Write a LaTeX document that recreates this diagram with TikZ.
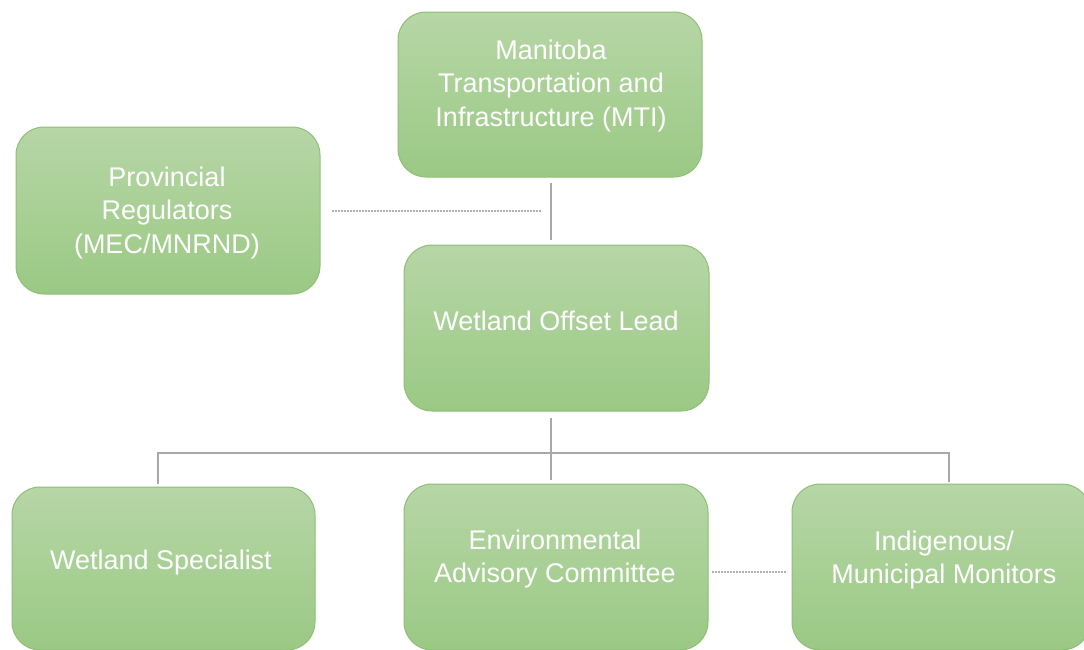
\documentclass[tikz,border=0pt]{standalone}
\usepackage{fontspec}
\setmainfont{Liberation Sans}
\begin{document}
\definecolor{boxtop}{HTML}{B6D6A6}
\definecolor{boxbot}{HTML}{9BC984}
\definecolor{boxline}{HTML}{8EBF76}
\definecolor{linkgray}{HTML}{A8A8A8}
\begin{tikzpicture}[x=1pt,y=-1pt,
  card/.style={rounded corners=28pt, draw=boxline, line width=1pt,
    top color=boxtop, bottom color=boxbot},
  cardtext/.style={text=white, align=center,
    font=\fontsize{27}{33.5}\selectfont, inner sep=0pt},
  link/.style={draw=linkgray, line width=2pt},
  dotlink/.style={draw=linkgray!90, line width=2pt, dash pattern=on 2pt off 1pt}]
\useasboundingbox (0,0) rectangle (1084,649);

% boxes
\path[card] (398,12) rectangle (702,177);
\node (mtibox) at (550,94.5) {};
\path[card] (16,127) rectangle (320,294);
\node (provbox) at (168,210.5) {};
\path[card] (404,245) rectangle (709,411);
\node (leadbox) at (556.5,328) {};
\path[card] (12,487) rectangle (315,650);
\node (specbox) at (163.5,568) {};
\path[card] (404,484) rectangle (708,650);
\node (eacbox) at (556,567) {};
\path[card] (792,484) rectangle (1090,650);
\node (monbox) at (941,567) {};

% labels
\node[cardtext] (mti) at (551,86) {Manitoba\\Transportation and\\Infrastructure (MTI)};
\node[cardtext] (prov) at (167,213) {Provincial\\Regulators\\(MEC/MNRND)};
\node[cardtext] (lead) at (556,321) {Wetland Offset Lead};
\node[cardtext] (spec) at (161,563) {Wetland Specialist};
\node[cardtext] (eac) at (555,559) {Environmental\\Advisory Committee};
\node[cardtext] (mon) at (944,560) {Indigenous/\\Municipal Monitors};

% connectors
\coordinate (mtiBot) at (551,183);
\coordinate (leadTop) at (551,240);
\coordinate (provEnd) at (332,211);
\coordinate (provJoin) at (541,211);
\coordinate (leadBot) at (551,418);
\coordinate (busL) at (158,453);
\coordinate (busM) at (551,453);
\coordinate (busR) at (949,453);
\coordinate (specTop) at (158,484);
\coordinate (eacTop) at (551,480);
\coordinate (monTop) at (949,482);
\coordinate (eacRight) at (712,572);
\coordinate (monLeft) at (787,572);

\draw[link] (mtiBot) -- (leadTop);
\draw[dotlink] (provEnd) -- (provJoin);
\draw[link] (leadBot) -- (busM);
\draw[link] (specTop) -- (busL) -- (busR) -- (monTop);
\draw[link] (busM) -- (eacTop);
\draw[dotlink] (eacRight) -- (monLeft);
\end{tikzpicture}
\end{document}
